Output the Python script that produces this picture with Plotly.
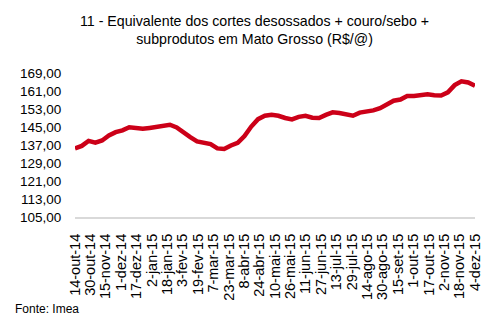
import pandas as pd
import plotly.graph_objects as go

title_text = "11 - Equivalente dos cortes desossados + couro/sebo +<br>subprodutos em Mato Grosso (R$/@)"
source_text = "Fonte: Imea"

start_date = "2014-10-14"
end_date = "2015-12-04"

values = [
    135.5, 136.6, 138.8, 138.0, 139.0, 141.2, 142.7, 143.5, 144.9, 144.3,
    144.2, 144.6, 145.0, 145.8, 146.0, 144.8, 142.5, 140.5, 138.6, 137.8,
    137.4, 135.5, 135.2, 136.8, 138.0, 141.0, 145.2, 148.5, 150.0, 150.4,
    150.0, 149.0, 148.4, 149.5, 150.0, 149.1, 149.0, 150.4, 151.5, 151.2,
    150.8, 150.0, 151.4, 151.8, 152.4, 153.4, 155.2, 156.7, 157.2, 158.8,
    158.8, 159.0, 159.5, 159.1, 159.0, 160.4, 163.6, 165.3, 164.8, 163.3,
]

tick_dates = [
    "2014-10-14", "2014-10-30", "2014-11-15", "2014-12-01", "2014-12-17",
    "2015-01-02", "2015-01-18", "2015-02-03", "2015-02-19", "2015-03-07",
    "2015-03-23", "2015-04-08", "2015-04-24", "2015-05-10", "2015-05-26",
    "2015-06-11", "2015-06-27", "2015-07-13", "2015-07-29", "2015-08-14",
    "2015-08-30", "2015-09-15", "2015-10-01", "2015-10-17", "2015-11-02",
    "2015-11-18", "2015-12-04",
]
tick_labels = [
    "14-out-14", "30-out-14", "15-nov-14", "1-dez-14", "17-dez-14",
    "2-jan-15", "18-jan-15", "3-fev-15", "19-fev-15", "7-mar-15",
    "23-mar-15", "8-abr-15", "24-abr-15", "10-mai-15", "26-mai-15",
    "11-jun-15", "27-jun-15", "13-jul-15", "29-jul-15", "14-ago-15",
    "30-ago-15", "15-set-15", "1-out-15", "17-out-15", "2-nov-15",
    "18-nov-15", "4-dez-15",
]

y_ticks = [105, 113, 121, 129, 137, 145, 153, 161, 169]
y_labels = ["105,00", "113,00", "121,00", "129,00", "137,00", "145,00", "153,00", "161,00", "169,00"]

dates = pd.date_range(start_date, end_date, periods=len(values))

FONT = "Liberation Sans, Arial, sans-serif"

fig = go.Figure()
fig.add_trace(go.Scatter(
    x=dates, y=values, mode="lines",
    line=dict(color="#CC0018", width=4.5),
    hoverinfo="skip", showlegend=False,
))

annotations = [
    dict(
        text=title_text, xref="paper", yref="paper", x=0.4475, y=1.296,
        xanchor="center", yanchor="middle", showarrow=False,
        font=dict(family=FONT, size=14.2, color="black"),
    ),
    dict(
        text=source_text, xref="paper", yref="paper",
        x=-0.155, y=-0.641, xanchor="left", yanchor="middle",
        showarrow=False, font=dict(family=FONT, size=12, color="black"),
    ),
]

fig.update_layout(
    width=496, height=327,
    margin=dict(l=75, r=21, t=73, b=110),
    paper_bgcolor="white", plot_bgcolor="white",
    font=dict(family=FONT, color="black", size=13),
    xaxis=dict(
        type="date",
        range=[start_date, end_date],
        tickvals=tick_dates, ticktext=tick_labels,
        tickangle=-90,
        tickfont=dict(family=FONT, size=14.5, color="black"),
        showgrid=False, zeroline=False,
        showline=True, linecolor="#D9D9D9", linewidth=2,
        ticks="outside", ticklen=9, tickcolor="rgba(0,0,0,0)",
    ),
    yaxis=dict(
        range=[105, 169],
        tickvals=y_ticks, ticktext=y_labels,
        tickfont=dict(family=FONT, size=13.5, color="black"),
        showgrid=False, zeroline=False, showline=False,
        ticks="outside", ticklen=10, tickcolor="rgba(0,0,0,0)",
    ),
    annotations=annotations,
)

fig.write_html("out.html")
